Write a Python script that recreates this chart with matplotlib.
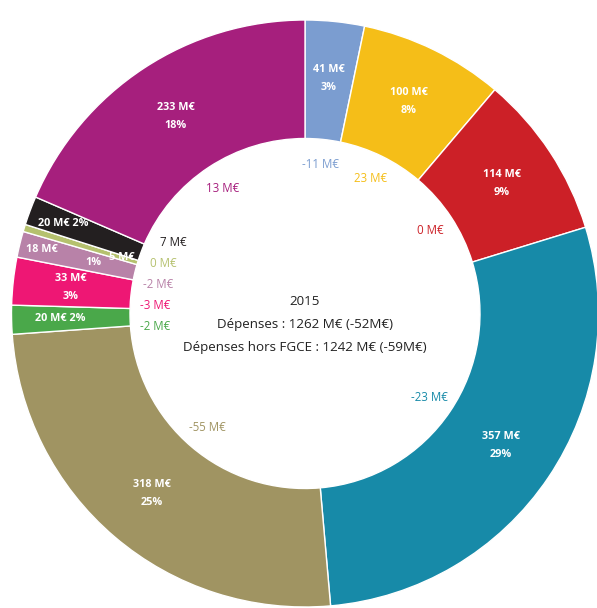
import numpy as np
import matplotlib.pyplot as plt

plt.rcParams['font.family'] = ['Open Sans', 'DejaVu Sans']

# Data (clockwise from top)
amounts = [41, 100, 114, 357, 318, 20, 33, 18, 5, 20, 233]
amount_labels = ["41 M€", "100 M€", "114 M€", "357 M€", "318 M€", "20 M€",
                 "33 M€", "18 M€", "5 M€", "20 M€", "233 M€"]
pct_labels = ["3%", "8%", "9%", "29%", "25%", "2%", "3%", "1%", "", "2%", "18%"]
delta_labels = ["-11 M€", "23 M€", "0 M€", "-23 M€", "-55 M€", "-2 M€",
                "-3 M€", "-2 M€", "0 M€", "7 M€", "13 M€"]
colors = ["#7b9dd0", "#f5be18", "#cc2027", "#178aa8", "#a09462", "#4aa84a",
          "#ee1774", "#b882a8", "#b5c16e", "#231f20", "#a61f7d"]
center_lines = ["2015", "Dépenses : 1262 M€ (-52M€)",
                "Dépenses hors FGCE : 1242 M€ (-59M€)"]

W, H = 597, 608
cx, cy = 305, H - 313.5
R, r_in = 293.5, 175

fig = plt.figure(figsize=(W / 100, H / 100), dpi=100)
ax = fig.add_axes([0, 0, 1, 1])
ax.pie(amounts, colors=colors, startangle=90, counterclock=False,
       radius=R, center=(cx, cy),
       wedgeprops=dict(width=R - r_in, edgecolor='white', linewidth=1))
ax.set_xlim(0, W)
ax.set_ylim(0, H)
ax.set_aspect('equal')
ax.axis('off')

total = sum(amounts)
cum = np.cumsum([0] + amounts)
mids = [(cum[i] + cum[i + 1]) / 2 / total * 360 for i in range(len(amounts))]


def polar(theta, r):
    t = np.radians(theta)
    return cx + r * np.sin(t), cy + r * np.cos(t)


lab_kw = dict(color='white', fontsize=7.8, fontweight='bold', ha='center', va='center')

# value labels in the ring
for i, th in enumerate(mids):
    if i in (5, 9):  # thin slices: one line
        r = 245 if i == 5 else 258
        x, y = polar(th, r)
        ax.text(x, y, amount_labels[i] + " " + pct_labels[i], **lab_kw)
    elif i == 7:  # split radially
        x, y = polar(th, 271)
        ax.text(x, y, amount_labels[i], **lab_kw)
        x, y = polar(th, 218)
        ax.text(x, y, pct_labels[i], **lab_kw)
    elif i == 8:
        x, y = polar(th, 192)
        ax.text(x, y, amount_labels[i], **lab_kw)
    else:
        x, y = polar(th, 236)
        ax.text(x, y + 9, amount_labels[i], **lab_kw)
        ax.text(x, y - 9, pct_labels[i], **lab_kw)

# delta labels inside the hole
r_d = 150
pos = [polar(th, r_d) for th in mids]
cluster = [5, 6, 7, 8, 9]
ys = [pos[i][1] for i in cluster]
ym = np.mean(ys)
gap = 21
for k, i in enumerate(cluster):
    y = ym + (k - (len(cluster) - 1) / 2) * gap
    x = cx - np.sqrt(max(r_d ** 2 - (y - cy) ** 2, 0))
    pos[i] = (x, y)
for i, (x, y) in enumerate(pos):
    ax.text(x, y, delta_labels[i], color=colors[i], fontsize=8.3,
            ha='center', va='center')

# center text
for k, line in enumerate(center_lines):
    ax.text(cx, cy + 12 - k * 23, line, color='#222222', fontsize=9.6,
            ha='center', va='center')

fig.savefig('out.png', dpi=100)
